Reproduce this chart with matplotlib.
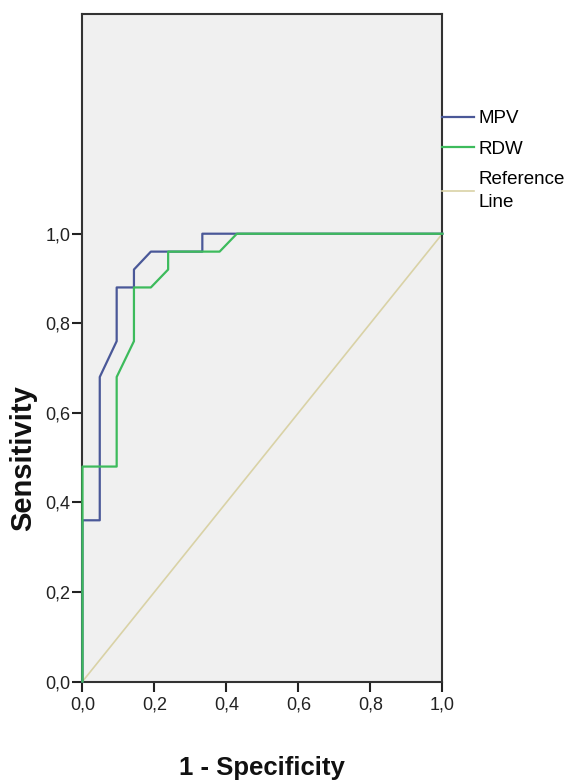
import matplotlib
matplotlib.use("Agg")
import matplotlib.pyplot as plt
from matplotlib.ticker import FixedLocator

plt.rcParams['font.family'] = ['Liberation Sans', 'DejaVu Sans']

# Data
mpv_fpr = [0, 0, 0.048, 0.048, 0.095, 0.095, 0.143, 0.143, 0.19, 0.333, 0.333, 1.0]
mpv_tpr = [0, 0.36, 0.36, 0.68, 0.76, 0.88, 0.88, 0.92, 0.96, 0.96, 1.0, 1.0]
rdw_fpr = [0, 0, 0.095, 0.095, 0.143, 0.143, 0.19, 0.238, 0.238, 0.381, 0.429, 1.0]
rdw_tpr = [0, 0.48, 0.48, 0.68, 0.76, 0.88, 0.88, 0.92, 0.96, 0.96, 1.0, 1.0]
ref_x = [0, 1]
ref_y = [0, 1]
tick_vals = [0.0, 0.2, 0.4, 0.6, 0.8, 1.0]
tick_labels = ["0,0", "0,2", "0,4", "0,6", "0,8", "1,0"]
series_labels = ["MPV", "RDW", "Reference\nLine"]

fig = plt.figure(figsize=(5.74, 7.81), dpi=100)
ax = fig.add_axes([0.1437, 0.1274, 0.627, 0.8543])
ax.set_facecolor('#f0f0f0')

l_ref, = ax.plot(ref_x, ref_y, color='#d9d2a6', lw=1.2, zorder=2, clip_on=False)
l_mpv, = ax.plot(mpv_fpr, mpv_tpr, color='#4a5898', lw=1.6, zorder=3, clip_on=False)
l_rdw, = ax.plot(rdw_fpr, rdw_tpr, color='#3dbb5c', lw=1.6, zorder=4, clip_on=False)

ax.set_xlim(0, 1)
ax.set_ylim(0, 1.49)
ax.xaxis.set_major_locator(FixedLocator(tick_vals))
ax.yaxis.set_major_locator(FixedLocator(tick_vals))
ax.set_xticklabels(tick_labels)
ax.set_yticklabels(tick_labels)
ax.tick_params(axis='both', direction='out', length=7.5, width=1.5, color='#222222',
               labelcolor='#222222', labelsize=13)
ax.tick_params(axis='x', pad=3)
ax.tick_params(axis='y', pad=1)
for s in ax.spines.values():
    s.set_color('#333333')
    s.set_linewidth(1.5)

ax.set_xlabel("1 - Specificity", fontsize=18.5, fontweight='bold',
              labelpad=31, color='#111111')
ax.set_ylabel("Sensitivity", fontsize=21, fontweight='bold', color='#111111')
ax.yaxis.set_label_coords(-0.125, 0.5 / 1.49)

leg = ax.legend([l_mpv, l_rdw, l_ref], series_labels, loc='upper left',
                bbox_to_anchor=(1.0, 0.856), frameon=False, borderaxespad=0,
                borderpad=0, handlelength=1.7, handletextpad=0.25, labelspacing=0.7,
                fontsize=13.5)
for t in leg.get_texts():
    t.set_linespacing(1.45)

fig.savefig("out.png", dpi=100)
